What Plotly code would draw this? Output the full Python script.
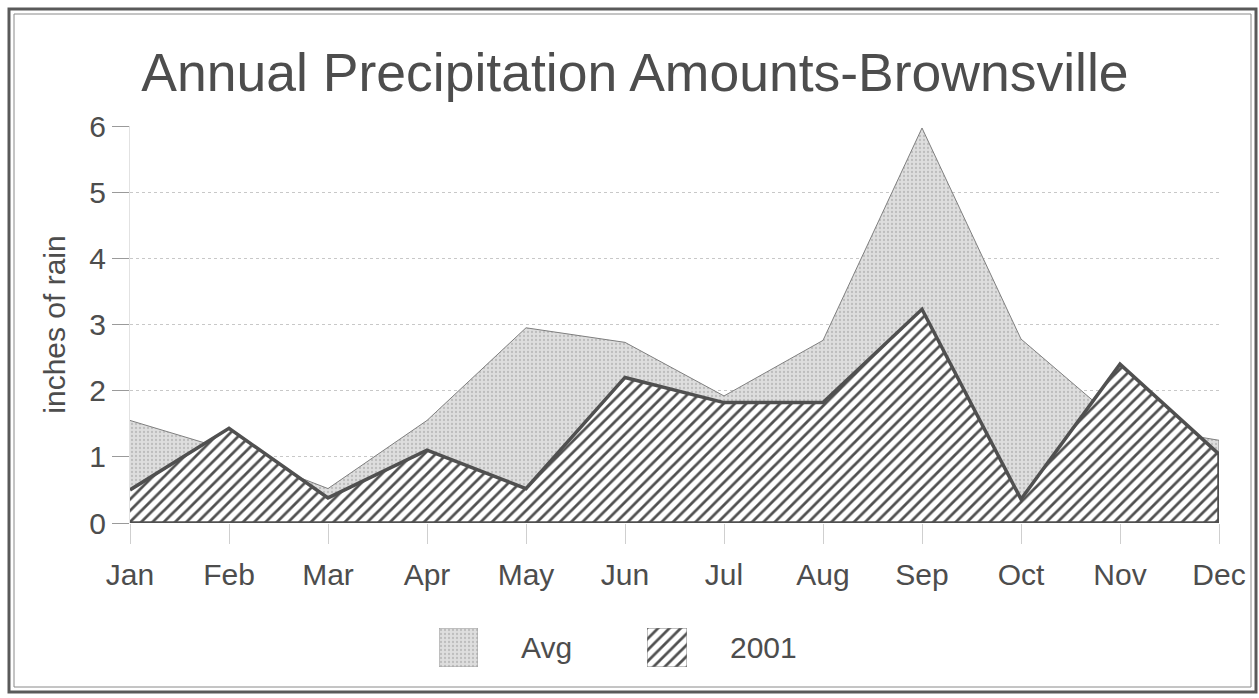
import plotly.graph_objects as go

# Monthly rainfall, Brownsville (inches)
months = ["Jan", "Feb", "Mar", "Apr", "May", "Jun",
          "Jul", "Aug", "Sep", "Oct", "Nov", "Dec"]
avg = [1.55, 1.10, 0.52, 1.55, 2.95, 2.73, 1.92, 2.76, 5.97, 2.78, 1.50, 1.25]
y2001 = [0.50, 1.43, 0.38, 1.10, 0.52, 2.20, 1.82, 1.82, 3.23, 0.36, 2.40, 1.04]
series_names = ["Avg", "2001"]
y_ticks = [0, 1, 2, 3, 4, 5, 6]

W, H = 1259, 698
ML, MR, MT, MB = 130, 40, 126, 20
PW, PH = W - ML - MR, H - MT - MB
FONT = "Arial, Liberation Sans, sans-serif"
TXT = "#4d4d4d"


def px_x(p):
    return (p - ML) / PW


def px_y(p):
    return (H - MB - p) / PH


avg_pattern = dict(shape=".", fgcolor="#bdbdbd", bgcolor="#dedede",
                   size=4, solidity=0.25, fillmode="replace")
hatch_pattern = dict(shape="/", fgcolor="#505050", bgcolor="white",
                     size=8, solidity=0.34, fillmode="replace")


def closed(values):
    # area polygon closed down to the zero baseline
    return months + [months[-1], months[0]], list(values) + [0, 0]


fig = go.Figure()

xa, ya = closed(avg)
fig.add_trace(go.Scatter(
    x=xa, y=ya, name=series_names[0], mode="lines", fill="toself",
    fillpattern=avg_pattern, line=dict(color="#7f7f7f", width=1),
    showlegend=False, hoverinfo="skip", xaxis="x", yaxis="y"))

xb, yb = closed(y2001)
fig.add_trace(go.Scatter(
    x=xb, y=yb, name=series_names[1], mode="lines", fill="toself",
    fillpattern=hatch_pattern, line=dict(color="#505050", width=3.5),
    showlegend=False, hoverinfo="skip", xaxis="x", yaxis="y"))

# legend swatches, each filling its own small unit axis
sq_x, sq_y = [0, 1, 1, 0, 0], [0, 0, 1, 1, 0]
fig.add_trace(go.Scatter(
    x=sq_x, y=sq_y, mode="lines", fill="toself", fillpattern=avg_pattern,
    line=dict(color="#a0a0a0", width=1), showlegend=False,
    hoverinfo="skip", xaxis="x2", yaxis="y2"))
fig.add_trace(go.Scatter(
    x=sq_x, y=sq_y, mode="lines", fill="toself", fillpattern=hatch_pattern,
    line=dict(color="#808080", width=1), showlegend=False,
    hoverinfo="skip", xaxis="x3", yaxis="y2"))

y_bottom = px_y(523)

fig.update_layout(
    template="none",
    width=W, height=H,
    margin=dict(l=ML, r=MR, t=MT, b=MB, autoexpand=False),
    paper_bgcolor="white", plot_bgcolor="white",
    font=dict(family=FONT, size=30, color=TXT),
    title=dict(text="Annual Precipitation Amounts-Brownsville",
               font=dict(family=FONT, size=53.5, color=TXT),
               xref="container", x=635 / W, xanchor="center",
               yref="container", y=(H - 72) / H, yanchor="middle"),
    xaxis=dict(type="category", categoryorder="array", categoryarray=months,
               range=[0, len(months) - 1], anchor="y", automargin=False,
               showgrid=False, showline=False, zeroline=False,
               ticks="outside", ticklen=20, tickcolor="#cfcfcf",
               ticklabelstandoff=5,
               tickfont=dict(size=30, color=TXT)),
    yaxis=dict(domain=[y_bottom, 1], range=[0, 6], tickvals=y_ticks,
               anchor="x", automargin=False,
               showgrid=True, gridcolor="#c8c8c8",
               griddash="dot", gridwidth=1, zeroline=False,
               showline=True, linecolor="#e2e2e2", linewidth=1,
               ticks="outside", ticklen=17, tickcolor="#9a9a9a",
               tickfont=dict(size=30, color=TXT),
               title=dict(text="inches of rain", font=dict(size=30, color=TXT),
                          standoff=14)),
    xaxis2=dict(domain=[px_x(439), px_x(478)], range=[0, 1], anchor="y2",
                visible=False, fixedrange=True, automargin=False),
    xaxis3=dict(domain=[px_x(647), px_x(687)], range=[0, 1], anchor="y2",
                visible=False, fixedrange=True, automargin=False),
    yaxis2=dict(domain=[px_y(667), px_y(628)], range=[0, 1], anchor="x2",
                visible=False, fixedrange=True, automargin=False),
)

# legend labels
for label, left in zip(series_names, [519, 728]):
    fig.add_annotation(text=label, xref="paper", yref="paper",
                       x=px_x(left), y=px_y(647), xanchor="left",
                       yanchor="middle", showarrow=False,
                       font=dict(size=30, color=TXT))

# double frame around the whole chart
fig.add_shape(type="rect", xref="paper", yref="paper",
              x0=px_x(9), x1=px_x(1256), y0=px_y(692), y1=px_y(9),
              line=dict(color="#5a5a5a", width=3), layer="below")
fig.add_shape(type="rect", xref="paper", yref="paper",
              x0=px_x(14), x1=px_x(1251), y0=px_y(687), y1=px_y(14),
              line=dict(color="#8a8a8a", width=1), layer="below")

fig.write_html("out.html")
